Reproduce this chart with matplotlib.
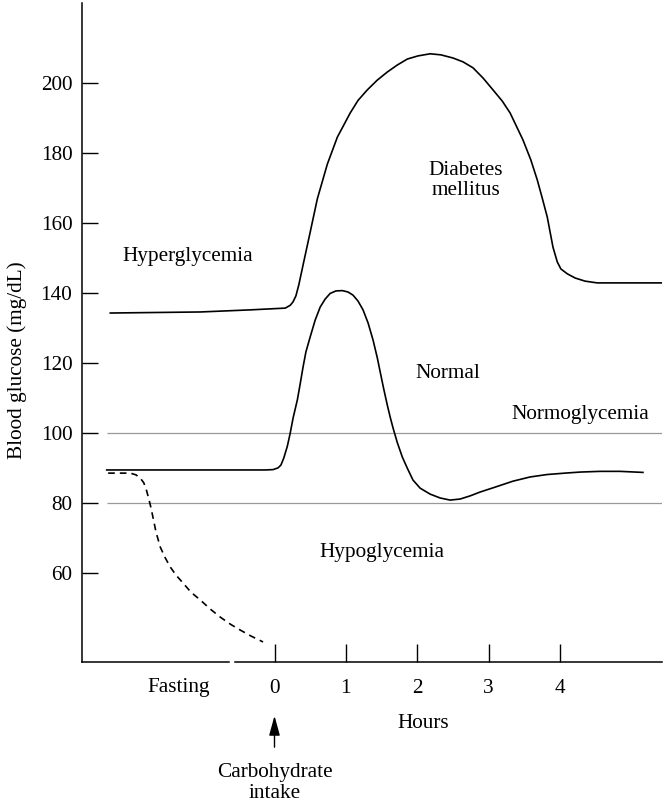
import numpy as np
import matplotlib
matplotlib.use('Agg')
import matplotlib.pyplot as plt
from matplotlib import transforms

# curves (hours after intake, blood glucose in mg/dL)
hours_diabetes = [-2.30, -1.04, -0.34, 0.15, 0.22, 0.26, 0.30, 0.34, 0.40, 0.50, 0.60, 0.74, 0.88,
                  1.06, 1.17, 1.30, 1.44, 1.58, 1.72, 1.86, 2.01, 2.18, 2.33, 2.50, 2.64, 2.78,
                  2.92, 3.06, 3.19, 3.30, 3.48, 3.59, 3.68, 3.75, 3.82, 3.90, 3.96, 4.01, 4.10,
                  4.21, 4.35, 4.52, 5.43]
glucose_diabetes = [134.3, 134.6, 135.2, 135.7, 136.5, 137.5, 139.2, 142.3, 148.0, 157.4, 166.9, 176.8, 184.5,
                    191.4, 195.0, 198.0, 200.8, 203.1, 205.1, 206.8, 207.7, 208.3, 208.0, 207.1, 206.0, 204.3,
                    201.4, 198.0, 194.8, 191.4, 183.7, 178.0, 172.3, 167.1, 161.7, 153.1, 148.9, 146.9, 145.5,
                    144.3, 143.4, 142.9, 142.9]

hours_normal = [-2.35, -1.04, -0.13, -0.02, 0.05, 0.09, 0.13, 0.18, 0.22, 0.26, 0.32, 0.36, 0.40,
                0.44, 0.50, 0.57, 0.64, 0.71, 0.78, 0.86, 0.95, 1.03, 1.10, 1.17, 1.24, 1.31,
                1.38, 1.44, 1.48, 1.53, 1.58, 1.62, 1.66, 1.72, 1.79, 1.86, 1.94, 2.04, 2.18,
                2.32, 2.46, 2.60, 2.74, 2.88, 3.09, 3.34, 3.58, 3.82, 4.07, 4.28, 4.56, 4.84, 5.16]
glucose_normal = [89.5, 89.5, 89.5, 89.6, 90.1, 90.9, 92.9, 96.3, 100.0, 104.3, 109.5, 114.1, 118.9,
                  123.2, 127.5, 132.3, 136.0, 138.3, 139.9, 140.6, 140.7, 140.3, 139.4, 137.7, 135.2, 131.5,
                  126.6, 121.5, 117.5, 112.6, 108.0, 104.6, 101.5, 97.3, 93.2, 90.0, 86.6, 84.3, 82.6,
                  81.5, 80.9, 81.2, 82.1, 83.2, 84.6, 86.3, 87.5, 88.2, 88.6, 88.9, 89.1, 89.1, 88.8]

hours_fasting = [-2.33, -2.02, -1.94, -1.88, -1.83, -1.79, -1.76, -1.73, -1.70, -1.66, -1.60, -1.53,
                 -1.46, -1.38, -1.28, -1.17, -1.04, -0.90, -0.76, -0.62, -0.48, -0.33, -0.16]
glucose_fasting = [88.6, 88.6, 88.1, 87.2, 85.8, 83.5, 81.2, 78.7, 75.8, 71.8, 67.5, 64.4,
                   61.8, 59.5, 57.2, 54.6, 52.4, 49.8, 47.5, 45.5, 43.8, 42.1, 40.4]

normo_limits = [100, 80]
hour_ticks = [0, 1, 2, 3, 4]
glucose_ticks = [60, 80, 100, 120, 140, 160, 180, 200]

plt.rcParams['font.family'] = 'Liberation Serif'
plt.rcParams['font.size'] = 15.3

fig = plt.figure(figsize=(6.63, 8.07), dpi=100)
ax = fig.add_axes([82 / 663, 145 / 807, 580 / 663, 659 / 807])

xmin, xmax = -2.696, 5.427
ymin, ymax = 34.68, 222.8

# normoglycemia band limits
ax.hlines(normo_limits, -2.35, xmax, colors='0.6', lw=0.9)

ax.plot(hours_diabetes, glucose_diabetes, color='black', lw=1.2)
ax.plot(hours_normal, glucose_normal, color='black', lw=1.2)
ax.plot(hours_fasting, glucose_fasting, color='black', lw=1.2, linestyle=(0, (4, 3)))

ax.set_xlim(xmin, xmax)
ax.set_ylim(ymin, ymax)

for s in ['top', 'right', 'bottom']:
    ax.spines[s].set_visible(False)
ax.spines['left'].set_linewidth(1.1)
# x axis is broken between fasting and hours
ax.plot([xmin, -0.64], [ymin, ymin], color='black', lw=1.1, clip_on=False)
ax.plot([-0.56, xmax], [ymin, ymin], color='black', lw=1.1, clip_on=False)

ax.set_yticks(glucose_ticks)
ax.set_xticks(hour_ticks)
ax.tick_params(axis='y', direction='in', length=11.5, width=1, pad=7)
ax.tick_params(axis='x', direction='in', length=13, width=1, pad=12)

trans = transforms.blended_transform_factory(ax.transData, ax.transAxes)
ax.text(-1.34, -0.038, 'Fasting', transform=trans, ha='center', va='center')
ax.text(2.08, -0.0926, 'Hours', transform=trans, ha='center', va='center')
ax.text(0, -0.184, 'Carbohydrate\nintake', transform=trans, ha='center', va='center',
        linespacing=1.15)
ax.annotate('', xy=(0, -0.0774), xytext=(0, -0.1335), xycoords=trans, textcoords=trans,
            arrowprops=dict(arrowstyle='-|>,head_length=0.8,head_width=0.22', color='black',
                            lw=1, mutation_scale=15))

ax.text(-1.21, 150.3, 'Hyperglycemia', ha='center', va='center')
ax.text(2.68, 172.1, 'Diabetes\nmellitus', ha='center', va='center', linespacing=1.1)
ax.text(2.43, 116.9, 'Normal', ha='center', va='center')
ax.text(4.28, 105.2, 'Normoglycemia', ha='center', va='center')
ax.text(1.51, 65.8, 'Hypoglycemia', ha='center', va='center')

fig.text(17 / 663, 1 - 360 / 807, 'Blood glucose (mg/dL)', rotation=90, ha='center', va='center')

fig.savefig('out.png', dpi=100)
